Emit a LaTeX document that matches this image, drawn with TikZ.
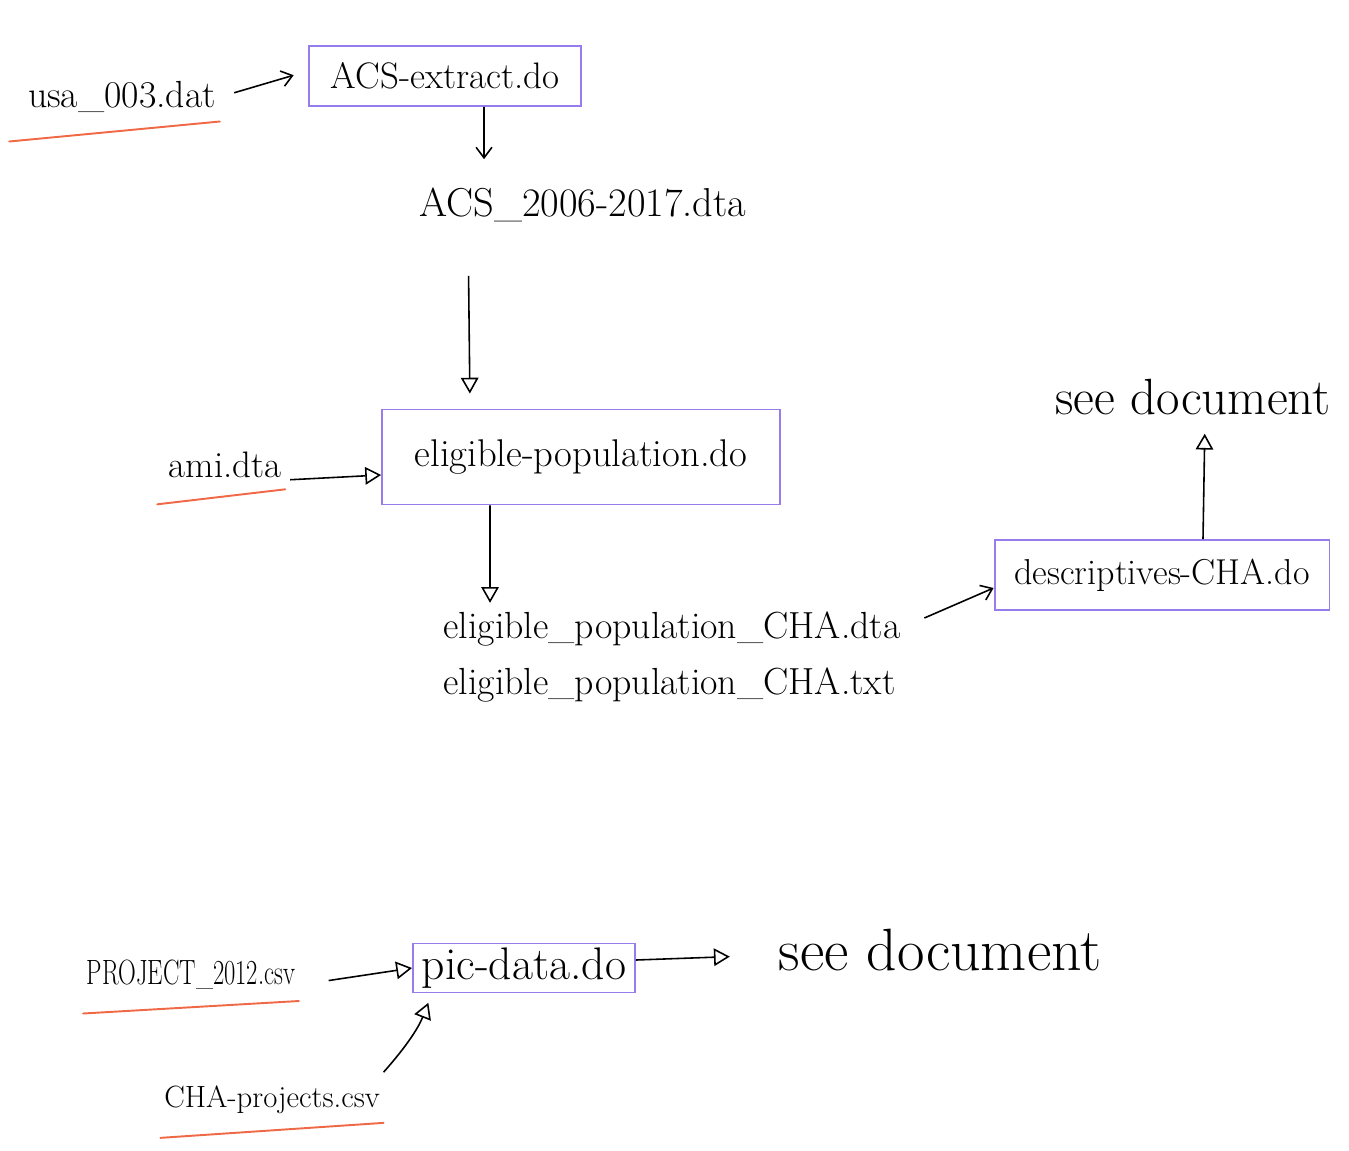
\documentclass[tikz,border=0pt]{standalone}
\usepackage{tikz}
\usetikzlibrary{arrows.meta,positioning}
\definecolor{BoxPurple}{RGB}{150,125,235}
\definecolor{MarkOrange}{RGB}{240,105,70}

\begin{document}
\begin{tikzpicture}[x=0.02cm, y=-0.02cm,
    block/.style={rectangle, draw=BoxPurple, line width=1.1pt, inner sep=0pt, font=\fontsize{21}{25}\selectfont},
    file/.style={inner sep=2pt, font=\fontsize{21}{25}\selectfont},
    arrow/.style={-{Straight Barb[length=6pt,width=9pt]}, line width=0.9pt},
    openarrow/.style={-{Triangle[open,length=9pt,width=10pt]}, line width=0.9pt},
    underline/.style={draw=MarkOrange, line width=1.1pt, line cap=round}
  ]
    \useasboundingbox (0,0) rectangle (1349,1150);

    % ACS extract
    \node[file, font=\fontsize{21.5}{26}\selectfont] (usa) at (122,97) {usa\_003.dat};
    \node[block, minimum width=5.44cm, minimum height=1.2cm] (extract) at (445,76) {ACS-extract.do};
    \node[file, font=\fontsize{23}{28}\selectfont] (acsdta) at (583,205) {ACS\_2006-2017.dta};

    % eligible population
    \node[block, font=\fontsize{22}{26}\selectfont, minimum width=7.96cm, minimum height=1.9cm] (elig) at (581,457) {eligible-population.do};
    \node[file] (ami) at (225,465) {ami.dta};
    \node[file, align=left, font=\fontsize{21.5}{32}\selectfont] (eligout) at (672,657) {eligible\_population\_CHA.dta\\eligible\_population\_CHA.txt};
    \node[block, font=\fontsize{20.5}{25}\selectfont, minimum width=6.7cm, minimum height=1.4cm] (desc) at (1162,575) {descriptives-CHA.do};
    \node[file, font=\fontsize{29}{34}\selectfont] (see1) at (1193,397) {see document};

    % pic data
    \node[file, font=\fontsize{20}{24}\selectfont] (project) at (191,975) {\scalebox{0.7}[1]{PROJECT\_2012.csv}};
    \node[block, font=\fontsize{26}{30}\selectfont, minimum width=4.44cm, minimum height=0.98cm] (pic) at (524,968) {pic-data.do};
    \node[file, font=\fontsize{34}{40}\selectfont] (see2) at (940,950) {see document};
    \node[file, font=\fontsize{17.5}{21}\selectfont] (chaproj) at (272,1100) {CHA-projects.csv};

    \draw[arrow, shorten <=0.3cm, shorten >=0.3cm] (usa.east) -- ([yshift=0.1cm]extract.west);
    \draw[arrow, shorten >=0.5cm] ([xshift=0.78cm]extract.south) -- ([xshift=-1.98cm]acsdta.north);
    \draw[openarrow, shorten <=1cm, shorten >=0.3cm] ([xshift=-2.3cm]acsdta.south) -- ([xshift=-2.22cm]elig.north);
    \draw[openarrow, shorten <=0.1cm] ([yshift=-0.3cm]ami.east) -- ([yshift=-0.36cm]elig.west);
    \draw[openarrow, shorten >=0.1cm] ([xshift=-1.82cm]elig.south) -- ([xshift=-3.64cm]eligout.north);
    \draw[arrow] ([xshift=0.4cm,yshift=0.78cm]eligout.east) -- ([yshift=-0.26cm]desc.west);
    \draw[openarrow, shorten >=0.3cm] ([xshift=0.82cm]desc.north) -- ([xshift=0.24cm]see1.south);
    \draw[openarrow, shorten <=0.6cm] ([yshift=-0.2cm]project.east) -- (pic.west);
    \draw[openarrow, shorten >=0.9cm] ([yshift=0.16cm]pic.east) -- ([yshift=-0.1cm]see2.west);
    \draw[openarrow, shorten >=0.2cm] ([yshift=0.2cm]chaproj.north east) to[bend right=10] ([xshift=0.4cm]pic.south west);

    % underlines
    \draw[underline] ([shift={(-0.3cm,-0.5cm)}]usa.south west) -- ([yshift=-0.1cm]usa.south east);
    \draw[underline] ([shift={(-0.15cm,-0.45cm)}]ami.south west) -- ([yshift=-0.15cm]ami.south east);
    \draw[underline] ([yshift=-0.4cm]project.south west) -- ([yshift=-0.15cm]project.south east);
    \draw[underline] ([yshift=-0.4cm]chaproj.south west) -- ([yshift=-0.1cm]chaproj.south east);
\end{tikzpicture}
\end{document}
